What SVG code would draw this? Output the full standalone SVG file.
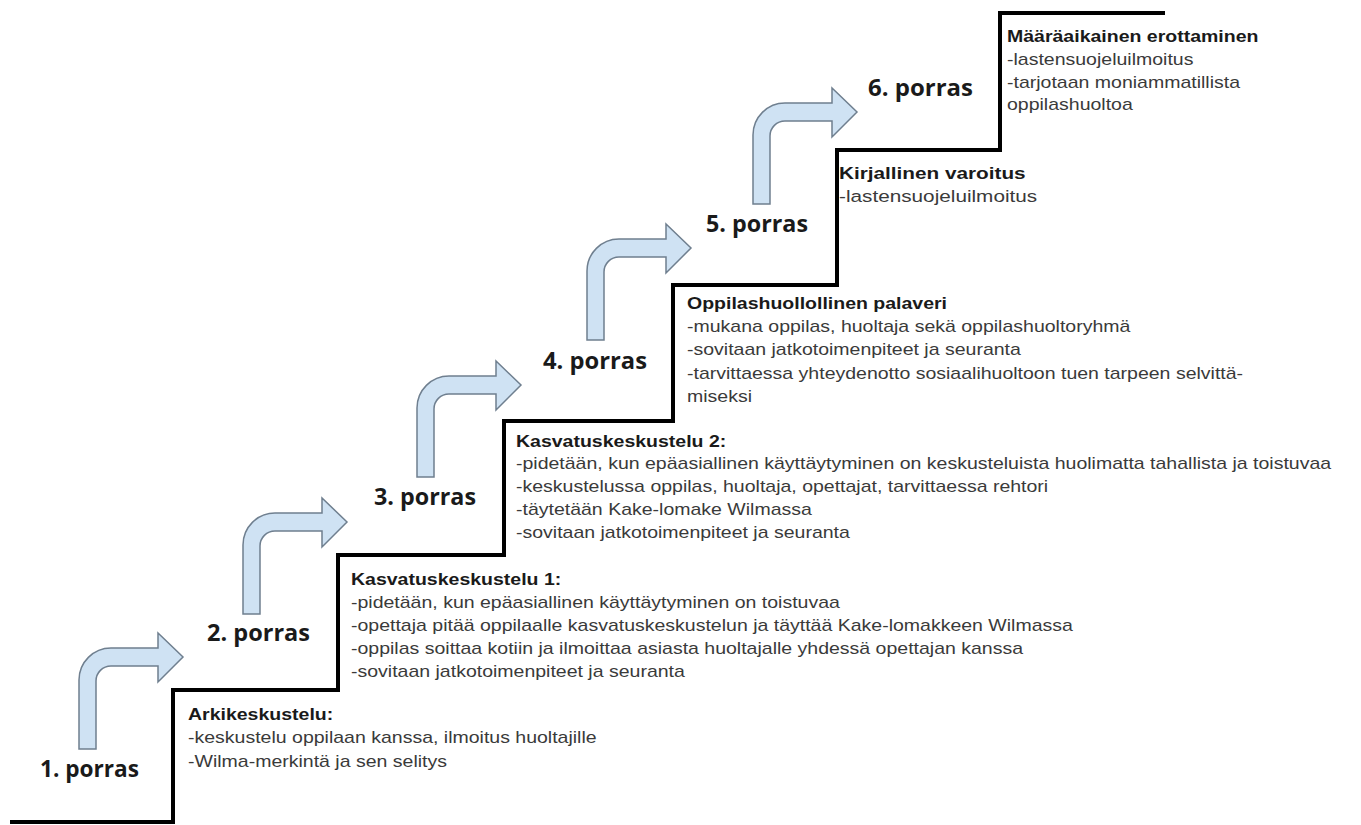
<svg xmlns="http://www.w3.org/2000/svg" width="1361" height="825" viewBox="0 0 1361 825">
<style>
.stair{fill:none;stroke:#000;stroke-width:4;stroke-linejoin:miter}
.arrow{fill:#cfe2f3;stroke:#6f7f8f;stroke-width:1.5;stroke-linejoin:miter}
.step{font-family:"Open Sans","DejaVu Sans",sans-serif;font-weight:700;font-size:24px;fill:#1a1a1a}
.h{font-family:"Liberation Sans",Arial,sans-serif;font-weight:700;font-size:16px;fill:#1a1a1a}
.t{font-family:"Liberation Sans",Arial,sans-serif;font-size:16px;fill:#3a3a3a}
.big .h,.big .t{font-size:17px}
</style>
<defs>
<path id="bentArrow" d="M0,0 L0,-69 A32,32 0 0 1 32,-101 L79,-101 L79,-116 L104,-92 L79,-67 L79,-83 L32,-83 A15,15 0 0 0 17,-68 L17,0 Z"/>
</defs>
<rect width="1361" height="825" fill="#fff"/>
<g id="staircase">
<polyline class="stair" points="10,822 173,822 173,690 338,690 338,555 504,555 504,421 673,421 673,285 837,285 837,150 1000,150 1000,13 1165,13"/>
</g>
<g id="connectors">
<use href="#bentArrow" class="arrow" transform="translate(79,749)"/>
<use href="#bentArrow" class="arrow" transform="translate(243,614)"/>
<use href="#bentArrow" class="arrow" transform="translate(417,477)"/>
<use href="#bentArrow" class="arrow" transform="translate(587,340)"/>
<use href="#bentArrow" class="arrow" transform="translate(753,204)"/>
</g>
<g id="step1">
<text class="step" x="40" y="777" textLength="99" lengthAdjust="spacingAndGlyphs">1. porras</text>
<g transform="translate(188,0) scale(1.22,1)">
<text class="h" x="0" y="720">Arkikeskustelu:</text>
<text class="t" x="0" y="743">-keskustelu oppilaan kanssa, ilmoitus huoltajille</text>
<text class="t" x="0" y="767">-Wilma-merkintä ja sen selitys</text>
</g>
</g>
<g id="step2">
<text class="step" x="207" y="641" textLength="103" lengthAdjust="spacingAndGlyphs">2. porras</text>
<g transform="translate(351,0) scale(1.22,1)">
<text class="h" x="0" y="585">Kasvatuskeskustelu 1:</text>
<text class="t" x="0" y="608">-pidetään, kun epäasiallinen käyttäytyminen on toistuvaa</text>
<text class="t" x="0" y="631">-opettaja pitää oppilaalle kasvatuskeskustelun ja täyttää Kake-lomakkeen Wilmassa</text>
<text class="t" x="0" y="654">-oppilas soittaa kotiin ja ilmoittaa asiasta huoltajalle yhdessä opettajan kanssa</text>
<text class="t" x="0" y="677">-sovitaan jatkotoimenpiteet ja seuranta</text>
</g>
</g>
<g id="step3">
<text class="step" x="374" y="505" textLength="102" lengthAdjust="spacingAndGlyphs">3. porras</text>
<g transform="translate(516,0) scale(1.22,1)">
<text class="h" x="0" y="447">Kasvatuskeskustelu 2:</text>
<text class="t" x="0" y="469">-pidetään, kun epäasiallinen käyttäytyminen on keskusteluista huolimatta tahallista ja toistuvaa</text>
<text class="t" x="0" y="492">-keskustelussa oppilas, huoltaja, opettajat, tarvittaessa rehtori</text>
<text class="t" x="0" y="515">-täytetään Kake-lomake Wilmassa</text>
<text class="t" x="0" y="538">-sovitaan jatkotoimenpiteet ja seuranta</text>
</g>
</g>
<g id="step4">
<text class="step" x="543" y="369" textLength="104" lengthAdjust="spacingAndGlyphs">4. porras</text>
<g transform="translate(687,0) scale(1.22,1)">
<text class="h" x="0" y="309">Oppilashuollollinen palaveri</text>
<text class="t" x="0" y="332">-mukana oppilas, huoltaja sekä oppilashuoltoryhmä</text>
<text class="t" x="0" y="355">-sovitaan jatkotoimenpiteet ja seuranta</text>
<text class="t" x="0" y="379">-tarvittaessa yhteydenotto sosiaalihuoltoon tuen tarpeen selvittä-</text>
<text class="t" x="0" y="402">miseksi</text>
</g>
</g>
<g id="step5">
<text class="step" x="706" y="232" textLength="102" lengthAdjust="spacingAndGlyphs">5. porras</text>
<g class="big" transform="translate(839,0) scale(1.22,1)">
<text class="h" x="0" y="179">Kirjallinen varoitus</text>
<text class="t" x="0" y="202">-lastensuojeluilmoitus</text>
</g>
</g>
<g id="step6">
<text class="step" x="868" y="96" textLength="105" lengthAdjust="spacingAndGlyphs">6. porras</text>
<g transform="translate(1007,0) scale(1.22,1)">
<text class="h" x="0" y="42">Määräaikainen erottaminen</text>
<text class="t" x="0" y="65">-lastensuojeluilmoitus</text>
<text class="t" x="0" y="88">-tarjotaan moniammatillista</text>
<text class="t" x="0" y="110">oppilashuoltoa</text>
</g>
</g>
</svg>
